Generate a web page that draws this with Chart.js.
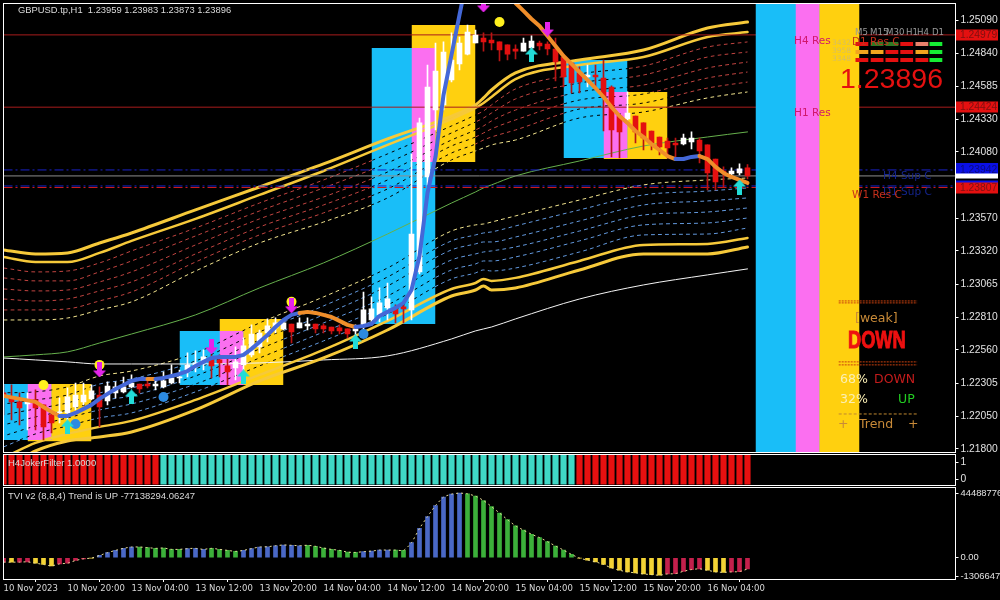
<!DOCTYPE html>
<html>
<head>
<meta charset="utf-8">
<title>GBPUSD.tp,H1</title>
<script src="https://cdn.jsdelivr.net/npm/chart.js@4"></script>
<style>
  html, body { margin: 0; padding: 0; background: #000; overflow: hidden; }
  canvas { position: absolute; left: 0; background: #000; }
</style>
</head>
<body>
<canvas id="mainChart" width="1000" height="454" style="top:0"></canvas>
<canvas id="filterChart" width="1000" height="33" style="top:453px"></canvas>
<canvas id="tviChart" width="1000" height="114" style="top:486px"></canvas>
<script>
// H1 candles, one entry per bar
const openPrices = [
  1.22230, 1.22192, 1.22161, 1.22145, 1.22176, 1.22138, 1.22061, 1.22076, 1.22076, 1.22122,
  1.22161, 1.22184, 1.22214, 1.22168, 1.22230, 1.22238, 1.22276, 1.22298, 1.22298, 1.22283,
  1.22276, 1.22306, 1.22345, 1.22391, 1.22430, 1.22460, 1.22491, 1.22483, 1.22437, 1.22422,
  1.22445, 1.22522, 1.22583, 1.22690, 1.22729, 1.22721, 1.22759, 1.22729, 1.22744, 1.22759,
  1.22744, 1.22736, 1.22729, 1.22721, 1.22706, 1.22752, 1.22790, 1.22829, 1.22883, 1.22875,
  1.22890, 1.22867, 1.23158, 1.23888, 1.24402, 1.24441, 1.24633, 1.24756, 1.24832, 1.24917,
  1.24955, 1.24940, 1.24925, 1.24902, 1.24871, 1.24855, 1.24879, 1.24917, 1.24909, 1.24871,
  1.24809, 1.24763, 1.24687, 1.24656, 1.24671, 1.24648, 1.24579, 1.24356, 1.24333, 1.24356,
  1.24303, 1.24241, 1.24195, 1.24164, 1.24149, 1.24141, 1.24157, 1.24172, 1.24134, 1.24026,
  1.23934, 1.23911, 1.23919, 1.23959
];
const highPrices = [
  1.22291, 1.22291, 1.22230, 1.22230, 1.22253, 1.22138, 1.22084, 1.22192, 1.22268, 1.22306,
  1.22306, 1.22291, 1.22276, 1.22314, 1.22314, 1.22352, 1.22368, 1.22298, 1.22322, 1.22329,
  1.22391, 1.22445, 1.22406, 1.22537, 1.22552, 1.22560, 1.22522, 1.22522, 1.22506, 1.22583,
  1.22652, 1.22752, 1.22713, 1.22798, 1.22806, 1.22790, 1.22759, 1.22806, 1.22806, 1.22759,
  1.22759, 1.22736, 1.22752, 1.22721, 1.22752, 1.23005, 1.22967, 1.23036, 1.23074, 1.22906,
  1.22906, 1.24064, 1.24341, 1.24748, 1.24917, 1.24925, 1.24994, 1.24963, 1.25055, 1.25017,
  1.24994, 1.24994, 1.24925, 1.24902, 1.24902, 1.24955, 1.24971, 1.24932, 1.24925, 1.24955,
  1.24825, 1.24763, 1.24733, 1.24748, 1.24748, 1.24786, 1.24587, 1.24356, 1.24541, 1.24356,
  1.24303, 1.24241, 1.24195, 1.24187, 1.24187, 1.24218, 1.24234, 1.24187, 1.24134, 1.24026,
  1.23965, 1.23958, 1.23988, 1.23983
];
const lowPrices = [
  1.22061, 1.22022, 1.21984, 1.21946, 1.21946, 1.21869, 1.21923, 1.21999, 1.22022, 1.22099,
  1.22138, 1.22176, 1.21968, 1.22138, 1.22192, 1.22230, 1.22268, 1.22230, 1.22268, 1.22253,
  1.22268, 1.22298, 1.22306, 1.22352, 1.22391, 1.22406, 1.22345, 1.22352, 1.22291, 1.22329,
  1.22406, 1.22506, 1.22537, 1.22621, 1.22690, 1.22713, 1.22613, 1.22729, 1.22713, 1.22690,
  1.22690, 1.22682, 1.22682, 1.22652, 1.22575, 1.22690, 1.22752, 1.22775, 1.22790, 1.22767,
  1.22767, 1.22790, 1.23143, 1.23827, 1.24249, 1.24402, 1.24617, 1.24710, 1.24825, 1.24917,
  1.24855, 1.24863, 1.24779, 1.24786, 1.24794, 1.24855, 1.24871, 1.24863, 1.24825, 1.24625,
  1.24579, 1.24533, 1.24533, 1.24579, 1.24579, 1.24241, 1.24042, 1.24034, 1.24326, 1.24149,
  1.24095, 1.24095, 1.24057, 1.24034, 1.24019, 1.24134, 1.24103, 1.23996, 1.23788, 1.23788,
  1.23811, 1.23896, 1.23903, 1.23873
];
const closePrices = [
  1.22199, 1.22161, 1.22115, 1.22161, 1.22115, 1.21968, 1.21999, 1.22084, 1.22199, 1.22214,
  1.22214, 1.22245, 1.22122, 1.22283, 1.22276, 1.22276, 1.22306, 1.22260, 1.22283, 1.22298,
  1.22322, 1.22345, 1.22352, 1.22445, 1.22460, 1.22506, 1.22437, 1.22460, 1.22391, 1.22468,
  1.22591, 1.22682, 1.22690, 1.22744, 1.22767, 1.22767, 1.22698, 1.22767, 1.22759, 1.22721,
  1.22721, 1.22706, 1.22706, 1.22682, 1.22721, 1.22867, 1.22875, 1.22921, 1.22952, 1.22836,
  1.22875, 1.23450, 1.24303, 1.24579, 1.24702, 1.24848, 1.24786, 1.24917, 1.25001, 1.24978,
  1.24925, 1.24917, 1.24863, 1.24832, 1.24855, 1.24917, 1.24932, 1.24894, 1.24871, 1.24771,
  1.24656, 1.24610, 1.24617, 1.24671, 1.24656, 1.24502, 1.24249, 1.24234, 1.24379, 1.24234,
  1.24187, 1.24149, 1.24118, 1.24111, 1.24134, 1.24187, 1.24187, 1.24088, 1.23919, 1.23850,
  1.23926, 1.23934, 1.23950, 1.23896
];

// the thick trend line (blue rising, orange falling)
const trendBars = [
  0, 2, 4, 5, 6, 7, 8, 9, 10, 11, 12, 13, 14, 15, 16, 17, 18, 19, 20, 21, 22, 23, 24, 25, 26, 27, 28, 29,
  30, 31, 32, 33, 34, 35, 36, 37, 38, 39, 40, 41, 42, 43, 44, 45, 46, 47, 48, 49, 50, 51, 52, 53, 54, 55,
  56, 57, 58, 63, 64, 65, 66, 67, 68, 69, 70, 71, 72, 73, 74, 75, 76, 77, 78, 79, 80, 81, 82, 83, 84, 85,
  86, 87, 88, 89, 90, 91, 92, 93
];
const trendValues = [
  1.22207, 1.22184, 1.22161, 1.22122, 1.22084, 1.22053, 1.22053, 1.22076, 1.22107, 1.22138, 1.22184, 1.22222,
  1.22260, 1.22291, 1.22322, 1.22337, 1.22337, 1.22337, 1.22345, 1.22360, 1.22375, 1.22398, 1.22437, 1.22468,
  1.22498, 1.22506, 1.22506, 1.22506, 1.22522, 1.22568, 1.22621, 1.22675, 1.22736, 1.22790, 1.22829, 1.22844,
  1.22852, 1.22844, 1.22829, 1.22813, 1.22783, 1.22752, 1.22736, 1.22744, 1.22759, 1.22821, 1.22852, 1.22883,
  1.22921, 1.23020, 1.23281, 1.23765, 1.24042, 1.24517, 1.24825, 1.25132, 1.25439, 1.25293, 1.25224, 1.25163,
  1.25101, 1.25047, 1.24971, 1.24894, 1.24817, 1.24756, 1.24694, 1.24633, 1.24571, 1.24502, 1.24425, 1.24356,
  1.24303, 1.24241, 1.24195, 1.24141, 1.24095, 1.24049, 1.24026, 1.24026, 1.24042, 1.24049, 1.24026, 1.23965,
  1.23919, 1.23888, 1.23865, 1.23842
];
const trendFallingRuns = [[0, 7], [18, 19], [37, 44], [58, 84], [87, 93]];

// envelope lines, read at these bars
const bandBars = [0, 4, 8, 12, 16, 24, 32, 40, 48, 56, 59, 60, 61, 64, 72, 80, 88, 93];
const upperOuter = [1.23328, 1.23297, 1.23305, 1.23381, 1.23458, 1.23635, 1.23811, 1.23988, 1.24180, 1.24356, 1.24441, 1.24495, 1.24556, 1.24687, 1.24786, 1.24863, 1.25032, 1.25078];
const upperInner = [1.23274, 1.23235, 1.23235, 1.23305, 1.23397, 1.23566, 1.23750, 1.23934, 1.24134, 1.24333, 1.24418, 1.24456, 1.24502, 1.24640, 1.24748, 1.24809, 1.24963, 1.25001];
const upperDash1 = [1.23189, 1.23159, 1.23166, 1.23228, 1.23320, 1.23496, 1.23688, 1.23865, 1.24065, 1.24280, 1.24364, 1.24395, 1.24441, 1.24564, 1.24679, 1.24740, 1.24886, 1.24925];
const upperDash2 = [1.23113, 1.23090, 1.23090, 1.23159, 1.23243, 1.23435, 1.23627, 1.23804, 1.23996, 1.24226, 1.24310, 1.24341, 1.24379, 1.24487, 1.24610, 1.24671, 1.24809, 1.24848];
const upperDash3 = [1.23028, 1.23013, 1.23020, 1.23082, 1.23159, 1.23366, 1.23566, 1.23734, 1.23926, 1.24172, 1.24249, 1.24280, 1.24318, 1.24402, 1.24541, 1.24594, 1.24725, 1.24771];
const upperDash4 = [1.22951, 1.22936, 1.22951, 1.23013, 1.23082, 1.23297, 1.23504, 1.23673, 1.23865, 1.24126, 1.24195, 1.24226, 1.24257, 1.24326, 1.24479, 1.24525, 1.24648, 1.24694];
const upperDash5 = [1.22867, 1.22867, 1.22875, 1.22936, 1.23005, 1.23235, 1.23443, 1.23612, 1.23796, 1.24072, 1.24141, 1.24172, 1.24195, 1.24249, 1.24410, 1.24456, 1.24571, 1.24617];
const upperPale = [1.22790, 1.22790, 1.22805, 1.22867, 1.22929, 1.23166, 1.23381, 1.23542, 1.23727, 1.24019, 1.24088, 1.24111, 1.24134, 1.24172, 1.24341, 1.24387, 1.24495, 1.24541];
const lowerPale = [1.22230, 1.22238, 1.22276, 1.22360, 1.22398, 1.22537, 1.22767, 1.22967, 1.23189, 1.23473, 1.23520, 1.23527, 1.23542, 1.23589, 1.23711, 1.23827, 1.23865, 1.23880];
const lowerDash1 = [1.22145, 1.22176, 1.22214, 1.22298, 1.22337, 1.22475, 1.22698, 1.22898, 1.23120, 1.23397, 1.23443, 1.23458, 1.23466, 1.23512, 1.23635, 1.23750, 1.23780, 1.23804];
const lowerDash2 = [1.22061, 1.22107, 1.22153, 1.22230, 1.22268, 1.22414, 1.22636, 1.22829, 1.23051, 1.23328, 1.23374, 1.23389, 1.23389, 1.23427, 1.23550, 1.23673, 1.23704, 1.23727];
const lowerDash3 = [1.21984, 1.22045, 1.22099, 1.22168, 1.22207, 1.22360, 1.22567, 1.22767, 1.22974, 1.23251, 1.23297, 1.23312, 1.23320, 1.23351, 1.23473, 1.23596, 1.23619, 1.23650];
const lowerDash4 = [1.21899, 1.21976, 1.22038, 1.22099, 1.22145, 1.22298, 1.22498, 1.22698, 1.22905, 1.23174, 1.23220, 1.23243, 1.23243, 1.23274, 1.23397, 1.23520, 1.23535, 1.23573];
const lowerDash5 = [1.21815, 1.21915, 1.21976, 1.22038, 1.22076, 1.22238, 1.22437, 1.22629, 1.22836, 1.23105, 1.23151, 1.23174, 1.23166, 1.23189, 1.23312, 1.23443, 1.23450, 1.23496];
const lowerInner = [1.21731, 1.21846, 1.21915, 1.21969, 1.22015, 1.22176, 1.22368, 1.22560, 1.22783, 1.23028, 1.23074, 1.23105, 1.23090, 1.23113, 1.23243, 1.23366, 1.23374, 1.23420];
const lowerOuter = [1.21638, 1.21784, 1.21861, 1.21892, 1.21930, 1.22099, 1.22322, 1.22498, 1.22713, 1.22974, 1.23020, 1.23051, 1.23020, 1.23036, 1.23174, 1.23297, 1.23297, 1.23351];
const middleLine = [1.22506, 1.22522, 1.22545, 1.22613, 1.22682, 1.22829, 1.23036, 1.23228, 1.23450, 1.23688, 1.23773, 1.23804, 1.23827, 1.23896, 1.24011, 1.24126, 1.24195, 1.24234];
const slowLine = [1.22498, 1.22483, 1.22468, 1.22452, 1.22452, 1.22452, 1.22460, 1.22483, 1.22514, 1.22644, 1.22706, 1.22721, 1.22736, 1.22798, 1.22951, 1.23059, 1.23136, 1.23182];

// the session boxes: a blue one and a gold one, their overlap shows pink
const blueFrom = [0, 22, 46, 70, 94];
const blueTo = [6, 30, 54, 78, 102];
const blueTop = [1.22298, 1.22706, 1.24879, 1.24786, 1.25300];
const blueBottom = [1.21869, 1.22291, 1.22759, 1.24034, 1.21700];
const goldFrom = [3, 27, 51, 75, 99];
const goldTo = [11, 35, 59, 83, 107];
const goldTop = [1.22298, 1.22798, 1.25055, 1.24541, 1.25300];
const goldBottom = [1.21858, 1.22291, 1.24003, 1.24026, 1.21700];

// signal markers
const yellowDotBars = [5, 12, 36, 62];
const yellowDotPrices = [1.22291, 1.22445, 1.22929, 1.25078];
const blueDotBars = [9, 20, 45];
const blueDotPrices = [1.21991, 1.22199, 1.22682];
const downArrowBars = [12, 26, 36, 60, 68];
const downArrowPrices = [1.22406, 1.22583, 1.22898, 1.25209, 1.25024];
const upArrowBars = [8, 16, 30, 44, 66, 92];
const upArrowPrices = [1.21968, 1.22199, 1.22352, 1.22621, 1.24825, 1.23811];

// horizontal levels and the price tags on the axis
const resistanceLevels = [1.24979, 1.24424];
const supportLevels = [1.23942, 1.23819];
const bidLevel = 1.23896;
const weeklyLevel = 1.23807;
const priceTicks = [1.25090, 1.24840, 1.24585, 1.24330, 1.24080, 1.23570, 1.23320, 1.23065, 1.22810, 1.22560, 1.22305, 1.22050, 1.21800];
const priceTags = [1.24979, 1.24424, 1.23942, 1.23819, 1.23896, 1.23807];

// timeframe panel: R red, O orange, S salmon, D dark green, L lime
const timeframes = ['M5', 'M15', 'M30', 'H1', 'H4', 'D1'];
const signalRows = [
  ['R', 'D', 'D', 'R', 'S', 'L'],
  ['O', 'O', 'R', 'R', 'O', 'L'],
  ['R', 'R', 'R', 'R', 'R', 'L']
];

// lower panes
const jokerState = ('RRRRRRRRRRRRRRRRRRRR' +
  'TTTTTTTTTTTTTTTTTTTTTTTTTTTTTTTTTTTTTTTTTTTTTTTTTTTT' +
  'RRRRRRRRRRRRRRRRRRRRRR').split('');
const tviValues = [
  -30e6, -30e6, -30e6, -28e6, -37e6, -46e6, -56e6, -42e6, -37e6, -19e6,
  -7e6, -2e6, 16e6, 35e6, 51e6, 65e6, 74e6, 74e6, 70e6, 65e6,
  67e6, 58e6, 58e6, 63e6, 65e6, 58e6, 65e6, 58e6, 51e6, 44e6,
  51e6, 63e6, 74e6, 76e6, 83e6, 88e6, 86e6, 83e6, 86e6, 79e6,
  67e6, 58e6, 51e6, 39e6, 37e6, 42e6, 46e6, 53e6, 53e6, 53e6,
  51e6, 104e6, 202e6, 283e6, 359e6, 417e6, 438e6, 444.887761e6, 440e6, 424e6,
  394e6, 352e6, 308e6, 262e6, 220e6, 190e6, 162e6, 139e6, 111e6, 81e6,
  53e6, 23e6, -2e6, -16e6, -28e6, -46e6, -70e6, -86e6, -97e6, -104e6,
  -111e6, -116e6, -120e6, -111e6, -109e6, -93e6, -81e6, -76e6, -86e6, -97e6,
  -100e6, -97e6, -95e6, -77.138294e6
];
const tviState = ('CYCCYYYCCCCY' + 'BBBBB' + 'GGGGGG' + 'BBB' + 'GGGG' + 'BBBBBBBB' + 'GGGGGGG' + 'BBBB' + 'GG' +
  'BBBBBBB' + 'GGGGGGGGGGGGGG' + 'YYYYYYYYYYY' + 'CCCCC' + 'YYY' + 'CCC').split('');
const tviTicks = [444887761, 0, -130664720];
const tviTickLabels = ['444887761', '0.00', '-130664720'];
const filterTicks = [1, 0];
const timeTicks = [0, 8, 16, 24, 32, 40, 48, 56, 64, 72, 80, 88];
const timeLabels = [
  '10 Nov 2023', '10 Nov 20:00', '13 Nov 04:00', '13 Nov 12:00', '13 Nov 20:00', '14 Nov 04:00',
  '14 Nov 12:00', '14 Nov 20:00', '15 Nov 04:00', '15 Nov 12:00', '15 Nov 20:00', '16 Nov 04:00'
];

const lastSlot = 119;
const axisFont = { family: 'Liberation Sans', size: 10.3 };
const tviAxisFont = { family: 'Liberation Sans', size: 9.4 };
const BLUE = '#19BEF8', PINK = '#FB6FF0', GOLD = '#FFD00F', BAND = '#F6C93A';
const RED = '#E41010';
const signalColors = { R: RED, O: '#F2A51E', S: '#E9826C', D: '#2F7A24', L: '#16EC34' };
const tviColors = { Y: '#F3D335', C: '#C4204C', B: '#4A68C6', G: '#3CB03A' };

const points = (bars, values) => bars.map((bar, i) => ({ x: bar, y: values[i] }));
const allBars = (values) => values.map((v, i) => ({ x: i, y: v }));

function flatLine(from, to, value, color, width, dash) {
  return {
    data: [{ x: from, y: value }, { x: to, y: value }],
    borderColor: color, borderWidth: width, borderDash: dash || [], pointRadius: 0
  };
}

function box(from, to, top, bottom, color) {
  return {
    data: [{ x: from, y: top }, { x: to, y: top }],
    fill: { target: { value: bottom } },
    backgroundColor: color, borderWidth: 0, borderColor: 'transparent', pointRadius: 0
  };
}

function boxGroup(i) {
  return [
    box(goldFrom[i], goldTo[i], goldTop[i], goldBottom[i], GOLD),
    box(blueFrom[i], blueTo[i], blueTop[i], blueBottom[i], BLUE),
    box(goldFrom[i], blueTo[i], Math.min(blueTop[i], goldTop[i]), Math.max(blueBottom[i], goldBottom[i]), PINK)
  ];
}

function envelope(values, color, width) {
  return {
    data: points(bandBars, values), borderColor: color, borderWidth: width,
    pointRadius: 0, cubicInterpolationMode: 'monotone', borderCapStyle: 'round'
  };
}

function arrowIcon(color, up) {
  const c = document.createElement('canvas');
  c.width = 13;
  c.height = 15;
  const g = c.getContext('2d');
  if (!up) { g.translate(0, 15); g.scale(1, -1); }
  g.fillStyle = color;
  g.beginPath();
  g.moveTo(6.5, 0); g.lineTo(13, 7); g.lineTo(9, 7); g.lineTo(9, 15);
  g.lineTo(4, 15); g.lineTo(4, 7); g.lineTo(0, 7);
  g.closePath();
  g.fill();
  return c;
}

function markers(bars, prices, style, radius, color) {
  return {
    data: points(bars, prices), showLine: false, pointStyle: style, pointRadius: radius,
    pointBackgroundColor: color, pointBorderWidth: 0
  };
}

// painted bottom to top, reversed at the end because Chart.js draws the first dataset last
const layers = [];

const upperDashes = [upperDash1, upperDash2, upperDash3, upperDash4, upperDash5];
const lowerDashes = [lowerDash1, lowerDash2, lowerDash3, lowerDash4, lowerDash5];
const dashedBands = [
  ...upperDashes.map((v) => [v, '#C04440']),
  [upperPale, '#F2E48E'],
  [lowerPale, '#F2E48E'],
  ...lowerDashes.map((v) => [v, '#6298DC'])
];
dashedBands.forEach(([values, color]) => {
  layers.push({ ...envelope(values, color, 1), borderCapStyle: 'butt', borderDash: [4, 3] });
});
[0, 1, 2, 3].forEach((i) => layers.push(...boxGroup(i)));
// across the boxes the band shows as dark strokes, these fall in the gaps of the colored dashes
dashedBands.forEach(([values]) => {
  layers.push({ ...envelope(values, '#000', 1), borderCapStyle: 'butt', borderDash: [3, 4], borderDashOffset: 3 });
});

layers.push(envelope(slowLine, '#F4F4F4', 1));
layers.push(envelope(middleLine, '#66B04C', 1));
layers.push(envelope(upperOuter, BAND, 3));
layers.push(envelope(upperInner, BAND, 2.5));
layers.push(envelope(lowerInner, BAND, 2.5));
layers.push(envelope(lowerOuter, BAND, 3));

resistanceLevels.forEach((v) => layers.push(flatLine(0, lastSlot, v, '#A81C1C', 1)));
layers.push(flatLine(0, lastSlot, supportLevels[0], '#1A22C8', 1, [9, 3, 2, 3]));
layers.push(flatLine(0, lastSlot, supportLevels[1], '#1A22C8', 1, [9, 3, 2, 3]));
layers.push(flatLine(0, lastSlot, bidLevel, '#8E8E8E', 1));
layers.push(flatLine(0, lastSlot, weeklyLevel, '#D01C1C', 1, [9, 3, 2, 3]));

layers.push(...boxGroup(4));

// panel rules
[1.22936, 1.22921, 1.22468, 1.22445].forEach((v) => layers.push(flatLine(104.4, 114.2, v, '#C8400E', 1, [2, 1])));
layers.push(flatLine(104.4, 114.2, 1.22068, '#C08830', 1, [3, 2]));

// timeframe signal cells
const signalSlots = [106.5, 108.4, 110.25, 112.1, 114, 115.75];
const signalLevels = [1.24909, 1.24848, 1.24786];
signalRows.forEach((row, r) => {
  row.forEach((state, c) => {
    layers.push(flatLine(signalSlots[c], signalSlots[c] + 1.6, signalLevels[r], signalColors[state], 4));
  });
});

// candles: wicks under bodies
const isUp = (i) => closePrices[i] >= openPrices[i];
layers.push({
  type: 'bar', grouped: false, barPercentage: 1, categoryPercentage: 1, maxBarThickness: 1,
  data: highPrices.map((h, i) => ({ x: i, y: [lowPrices[i], h] })),
  backgroundColor: (ctx) => (isUp(ctx.dataIndex) ? '#FFFFFF' : '#B81414')
});
layers.push({
  type: 'bar', grouped: false, barPercentage: 1, categoryPercentage: 1, maxBarThickness: 5, minBarLength: 1,
  data: openPrices.map((o, i) => ({ x: i, y: [o, closePrices[i]] })),
  backgroundColor: (ctx) => (isUp(ctx.dataIndex) ? '#FFFFFF' : RED)
});

layers.push({
  data: points(trendBars, trendValues), borderWidth: 4, pointRadius: 0, borderColor: '#4468D8',
  borderCapStyle: 'round', borderJoinStyle: 'round',
  segment: {
    borderColor: (ctx) => {
      const bar = ctx.p0.parsed.x;
      return trendFallingRuns.some(([a, b]) => bar >= a && bar < b) ? '#F08E2A' : '#4468D8';
    }
  }
});

layers.push(markers(yellowDotBars, yellowDotPrices, 'circle', 5, '#FFF01E'));
layers.push(markers(blueDotBars, blueDotPrices, 'circle', 5, '#2C8AE2'));
layers.push(markers(downArrowBars, downArrowPrices, arrowIcon('#E424EA', false), 7, '#E424EA'));
layers.push(markers(upArrowBars, upArrowPrices, arrowIcon('#22DCD8', true), 7, '#22DCD8'));

// the label overhang would otherwise shrink the pane
function dropOverhang(s) {
  s.paddingTop = 0;
  s.paddingBottom = 0;
  s.paddingLeft = 0;
  s.paddingRight = 0;
}

function xAxis(visible) {
  return {
    type: 'linear', offset: false, min: 0, max: lastSlot, display: visible,
    afterBuildTicks: (s) => { s.ticks = timeTicks.map((v) => ({ value: v })); },
    afterFit: (s) => {
      if (visible) s.height = 21;
      dropOverhang(s);
    },
    border: { display: false },
    grid: { drawOnChartArea: false, drawTicks: true, tickLength: 3, color: '#FFFFFF' },
    ticks: {
      autoSkip: false, maxRotation: 0, align: 'start', padding: 2, color: '#D8D8D8',
      font: { family: 'DejaVu Sans', size: 8.5 },
      callback: (v) => timeLabels[timeTicks.indexOf(v)]
    }
  };
}

function yAxis(min, max, ticks, labelOf, font) {
  return {
    position: 'right', min: min, max: max,
    afterBuildTicks: (s) => { s.ticks = ticks.map((v) => ({ value: v })); },
    afterFit: (s) => {
      s.width = 44.5;
      dropOverhang(s);
    },
    border: { display: false },
    grid: { drawOnChartArea: false, drawTicks: true, tickLength: 3, color: '#FFFFFF' },
    ticks: { autoSkip: false, padding: 2, color: '#E2E2E2', font: font || axisFont, callback: labelOf }
  };
}

// white frame round the pane, plus whatever text belongs to it
function paneFrame(extraDraw) {
  return {
    id: 'paneFrame',
    afterDatasetsDraw(chart) {
      const { ctx, chartArea: a } = chart;
      ctx.save();
      ctx.strokeStyle = '#FFFFFF';
      ctx.lineWidth = 1;
      ctx.strokeRect(Math.floor(a.left) + 0.5, Math.floor(a.top) + 0.5, Math.round(a.right - a.left), Math.round(a.bottom - a.top));
      if (extraDraw) extraDraw(chart, ctx);
      ctx.restore();
    }
  };
}

function label(ctx, text, x, y, font, color, align) {
  ctx.font = font;
  ctx.fillStyle = color;
  ctx.textAlign = align || 'left';
  ctx.textBaseline = 'middle';
  ctx.fillText(text, x, y);
}

function drawMainText(chart, ctx) {
  const sans = '"DejaVu Sans"';
  label(ctx, 'GBPUSD.tp,H1  1.23959 1.23983 1.23873 1.23896', 18, 10.5, '9.4px "Liberation Sans"', '#DADADA');

  label(ctx, 'H4 Res', 794, 41.5, '10.5px ' + sans, '#D0186C');
  label(ctx, 'H1 Res', 794, 113.5, '10.5px ' + sans, '#D0186C');
  label(ctx, 'D1 Res C', 852, 42, '10.5px ' + sans, '#C8301C');
  label(ctx, 'H4 Sup C', 883, 176, '10.5px ' + sans, '#14248C');
  label(ctx, 'D1 Sup C', 883, 192, '10.5px ' + sans, '#14248C');
  label(ctx, 'W1 Res C', 852, 195, '10.5px ' + sans, '#C8301C');

  // timeframe header and the tiny spread readouts
  const headerX = [855, 870, 886, 906, 917, 932];
  timeframes.forEach((t, i) => label(ctx, t, headerX[i], 32.5, '8.6px ' + sans, '#9A9A9A'));
  label(ctx, '3432', 832, 43, '7.5px ' + sans, '#D6BE62');
  label(ctx, '3958', 832, 51, '7.5px ' + sans, '#D6BE62');
  label(ctx, '3348', 832, 59, '7.5px ' + sans, '#D6BE62');
  label(ctx, '1.23896', 840, 80, '28.5px "Liberation Sans"', RED);

  label(ctx, '[weak]', 855, 318.5, '12.5px ' + sans, '#C88A38');

  // the big DOWN is a heavy condensed face in the reference, squeeze a bold one
  ctx.save();
  ctx.translate(848, 341.5);
  ctx.scale(0.76, 1);
  ctx.strokeStyle = '#EE1010';
  ctx.lineWidth = 1;
  ctx.font = 'bold 24px "Liberation Sans"';
  ctx.strokeText('DOWN', 0, 0);
  label(ctx, 'DOWN', 0, 0, 'bold 24px "Liberation Sans"', '#EE1010');
  ctx.restore();

  label(ctx, '68%', 840, 379.5, '12.5px ' + sans, '#FBEFB4');
  label(ctx, 'DOWN', 874, 379.5, '12.5px ' + sans, '#C41C1C');
  label(ctx, '32%', 840, 399.5, '12.5px ' + sans, '#FBEFB4');
  label(ctx, 'UP', 898, 399.5, '12.5px ' + sans, '#22CC22');
  label(ctx, '+', 838, 425, '12.5px ' + sans, '#C88A38');
  label(ctx, 'Trend', 859, 425, '12.5px ' + sans, '#C88A38');
  label(ctx, '+', 908, 425, '12.5px ' + sans, '#C88A38');

  // price tags outside the pane
  const tagFill = ['#E41010', '#E41010', '#0A10E4', '#0A10E4', '#FFFFFF', '#E41010'];
  const tagInk = ['#7E1010', '#7E1010', '#0A0A80', '#0A0A80', '#404060', '#7E1010'];
  const scale = chart.scales.y;
  priceTags.forEach((v, i) => {
    const y = Math.round(scale.getPixelForValue(v));
    ctx.fillStyle = tagFill[i];
    const h = i === 2 ? 12 : i === 4 ? 5 : 11;
    ctx.fillRect(956, y - h / 2 - (i === 2 ? 1 : 0), 42, h);
    if (i !== 3 && i !== 4) label(ctx, v.toFixed(5), 960, y, axisFont.size + 'px "' + axisFont.family + '"', tagInk[i]);
  });
}

Chart.defaults.animation = false;
Chart.defaults.elements.line.tension = 0;

new Chart(document.getElementById('mainChart'), {
  type: 'line',
  data: { datasets: layers.slice().reverse() },
  options: {
    responsive: false,
    layout: { autoPadding: false, padding: { left: 3.5, right: 0, top: 3, bottom: 2 } },
    plugins: { legend: { display: false }, tooltip: { enabled: false } },
    scales: {
      x: xAxis(false),
      y: yAxis(1.21776, 1.25224, priceTicks, (v) => v.toFixed(5))
    }
  },
  plugins: [paneFrame(drawMainText)]
});

new Chart(document.getElementById('filterChart'), {
  type: 'bar',
  data: {
    datasets: [{
      grouped: false, barPercentage: 1, categoryPercentage: 1, maxBarThickness: 5.5,
      data: jokerState.map((s, i) => ({ x: i, y: [-0.3, 1.42] })),
      backgroundColor: (ctx) => (jokerState[ctx.dataIndex] === 'R' ? '#E81010' : '#3FD8C6')
    }]
  },
  options: {
    responsive: false,
    layout: { autoPadding: false, padding: { left: 3.5, right: 0, top: 1, bottom: 1 } },
    plugins: { legend: { display: false }, tooltip: { enabled: false } },
    scales: {
      x: xAxis(false),
      y: yAxis(-0.35, 1.47, filterTicks, (v) => String(v))
    }
  },
  plugins: [paneFrame((chart, ctx) => {
    label(ctx, 'H4JokerFilter 1.0000', 8, 10.5, '9.5px "Liberation Sans"', '#D8D8D8');
  })]
});

new Chart(document.getElementById('tviChart'), {
  type: 'bar',
  data: {
    datasets: [{
      type: 'line', data: allBars(tviValues), borderColor: '#E8DC98', borderWidth: 1,
      borderDash: [2, 3], pointRadius: 0, tension: 0.2
    }, {
      grouped: false, barPercentage: 1, categoryPercentage: 1, maxBarThickness: 4,
      data: allBars(tviValues),
      backgroundColor: (ctx) => tviColors[tviState[ctx.dataIndex]]
    }]
  },
  options: {
    responsive: false,
    layout: { autoPadding: false, padding: { left: 3.5, right: 0, top: 1, bottom: 0 } },
    plugins: { legend: { display: false }, tooltip: { enabled: false } },
    scales: {
      x: xAxis(true),
      y: yAxis(-146e6, 487e6, tviTicks, (v) => tviTickLabels[tviTicks.indexOf(v)], tviAxisFont)
    }
  },
  plugins: [paneFrame((chart, ctx) => {
    label(ctx, 'TVI v2 (8,8,4) Trend is UP -77138294.06247', 8, 10.5, '9.5px "Liberation Sans"', '#D8D8D8');
  })]
});
</script>
</body>
</html>
